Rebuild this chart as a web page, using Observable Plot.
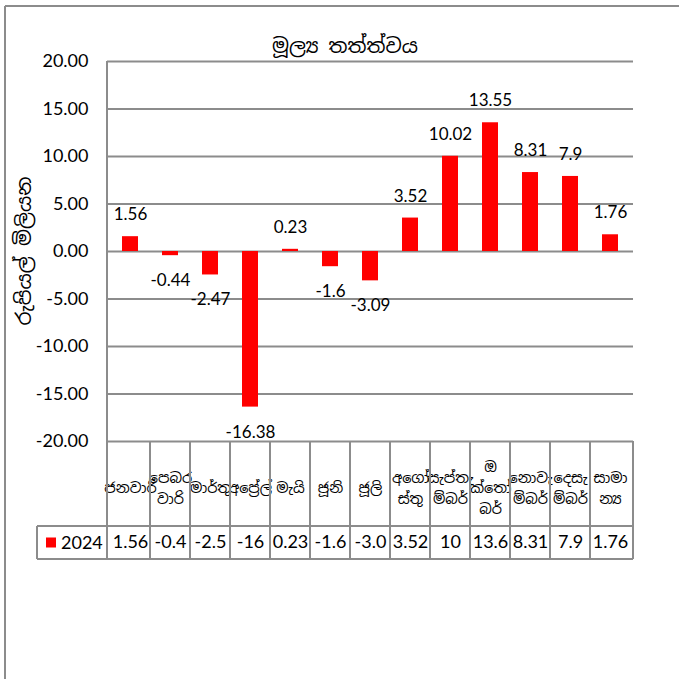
<!DOCTYPE html>
<html>
<head>
<meta charset="utf-8">
<script src="https://cdn.jsdelivr.net/npm/d3@7"></script>
<script src="https://cdn.jsdelivr.net/npm/@observablehq/plot@0.6"></script>
<style>
  html, body { margin: 0; padding: 0; background: #fff; }
  svg { display: block; }
</style>
</head>
<body>
<div id="chart"></div>
<script>
const months = ["ජනවාරි", "පෙබරවාරි", "මාර්තු", "අප්‍රේල්", "මැයි", "ජූනි", "ජූලි", "අගෝස්තු", "සැප්තැම්බර්", "ඔක්තෝබර්", "නොවැම්බර්", "දෙසැම්බර්", "සාමාන්‍ය"];
const monthLabels = ["ජනවාරි", "පෙබර\nවාරි", "මාර්තු", "අප්‍රේල්", "මැයි", "ජූනි", "ජූලි", "අගෝ\nස්තු", "සැප්තැ\nම්බර්", "ඔ\nක්තෝ\nබර්", "නොවැ\nම්බර්", "දෙසැ\nම්බර්", "සාමා\nන්‍ය"];
const values2024 = [1.56, -0.44, -2.47, -16.38, 0.23, -1.6, -3.09, 3.52, 10.02, 13.55, 8.31, 7.9, 1.76];
const valueLabels = ["1.56", "-0.44", "-2.47", "-16.38", "0.23", "-1.6", "-3.09", "3.52", "10.02", "13.55", "8.31", "7.9", "1.76"];
const tableLabels = ["1.56", "-0.4", "-2.5", "-16", "0.23", "-1.6", "-3.0", "3.52", "10", "13.6", "8.31", "7.9", "1.76"];
const yTicks = [20, 15, 10, 5, 0, -5, -10, -15, -20];
const seriesName = "2024";
const title = "මූල්‍ය තත්ත්වය";
const yLabel = "රුපියල් මිලියන";

const data = months.map((m, i) => ({month: m, label: monthLabels[i], value: values2024[i], vlabel: valueLabels[i], tlabel: tableLabels[i]}));

const numFont = "Lato, 'Open Sans', sans-serif";
const sinFont = "'Noto Sans Sinhala', 'Iskoola Pota', 'Noto Sans', sans-serif";
const gridColor = "#8c8c8c";

function decor(index, scales, values, dims) {
  const x = scales.x;
  const y = scales.y;
  const step = x(months[1]) - x(months[0]);
  const bw = x.bandwidth ? x.bandwidth() : step * 0.4;
  const left = dims.marginLeft;
  const right = dims.width - dims.marginRight;
  const plotBottom = dims.height - dims.marginBottom;
  const rowTop = plotBottom + 85;
  const rowBottom = plotBottom + 118;
  const tableLeft = left - 70;
  const g = d3.create("svg:g");
  const line = (x1, y1, x2, y2, w = 2) => g.append("line")
    .attr("x1", x1).attr("y1", y1).attr("x2", x2).attr("y2", y2)
    .attr("stroke", gridColor).attr("stroke-width", w);
  // outer chart border
  line(5, 6, dims.width + 5, 6, 2);
  line(5, 6, 5, dims.height + 5, 2);
  // left axis line
  line(left, y(20), left, rowBottom);
  // category column separators
  months.forEach((m, i) => {
    if (i === 0) return;
    const cx = x(m) + bw / 2 - step / 2;
    line(cx, plotBottom, cx, rowBottom);
  });
  line(right, plotBottom, right, rowBottom);
  // table rows
  line(tableLeft, rowTop, right, rowTop);
  line(tableLeft, rowBottom, right, rowBottom);
  line(tableLeft, rowTop, tableLeft, rowBottom);
  // legend key
  g.append("rect").attr("x", tableLeft + 9).attr("y", (rowTop + rowBottom) / 2 - 5)
    .attr("width", 10).attr("height", 10).attr("fill", "#ff0000");
  g.append("text").attr("x", tableLeft + 24).attr("y", (rowTop + rowBottom) / 2)
    .attr("text-anchor", "start")
    .attr("dy", "0.35em").attr("font-family", numFont).attr("font-size", 18)
    .attr("fill", "#000").text(seriesName);
  // title
  g.append("text").attr("x", 345).attr("y", 46).attr("text-anchor", "middle")
    .attr("dy", "0.35em").attr("font-family", sinFont).attr("font-size", 20)
    .attr("fill", "#000").text(title);
  // y label
  g.append("text").attr("transform", `translate(24,${(y(20) + y(-20)) / 2}) rotate(-90)`)
    .attr("text-anchor", "middle").attr("dy", "0.35em").attr("font-family", sinFont)
    .attr("font-size", 20).attr("fill", "#000").text(yLabel);
  return g.node();
}

const chart = Plot.plot({
  width: 679,
  height: 679,
  marginLeft: 107,
  marginRight: 46,
  marginTop: 61,
  marginBottom: 238,
  style: {background: "#fff", overflow: "visible"},
  x: {type: "band", domain: months, paddingInner: 0.6, paddingOuter: 0.3, axis: null},
  y: {domain: [-20, 20]},
  marks: [
    Plot.ruleY(yTicks, {stroke: gridColor, strokeWidth: 2}),
    Plot.axisY({ticks: yTicks, tickFormat: d => d.toFixed(2), tickSize: 0, tickPadding: 19, fontSize: 18, fontFamily: numFont, label: null, fill: "#000"}),
    Plot.barY(data, {x: "month", y: "value", fill: "#ff0000"}),
    Plot.text(data.filter(d => d.value >= 0), {x: "month", y: "value", text: "vlabel", dy: -22, fontSize: 17, fontFamily: numFont, fill: "#000"}),
    Plot.text(data.filter(d => d.value < 0), {x: "month", y: "value", text: "vlabel", dy: 25, fontSize: 17, fontFamily: numFont, fill: "#000"}),
    Plot.text(data, {x: "month", text: "label", frameAnchor: "bottom", lineAnchor: "middle", dy: 45, lineHeight: 1.45, fontSize: 14.5, fontFamily: sinFont, fill: "#000"}),
    Plot.text(data, {x: "month", text: "tlabel", frameAnchor: "bottom", lineAnchor: "middle", dy: 101, fontSize: 18, fontFamily: numFont, fill: "#000"}),
    decor
  ]
});
document.getElementById("chart").appendChild(chart);
</script>
</body>
</html>
